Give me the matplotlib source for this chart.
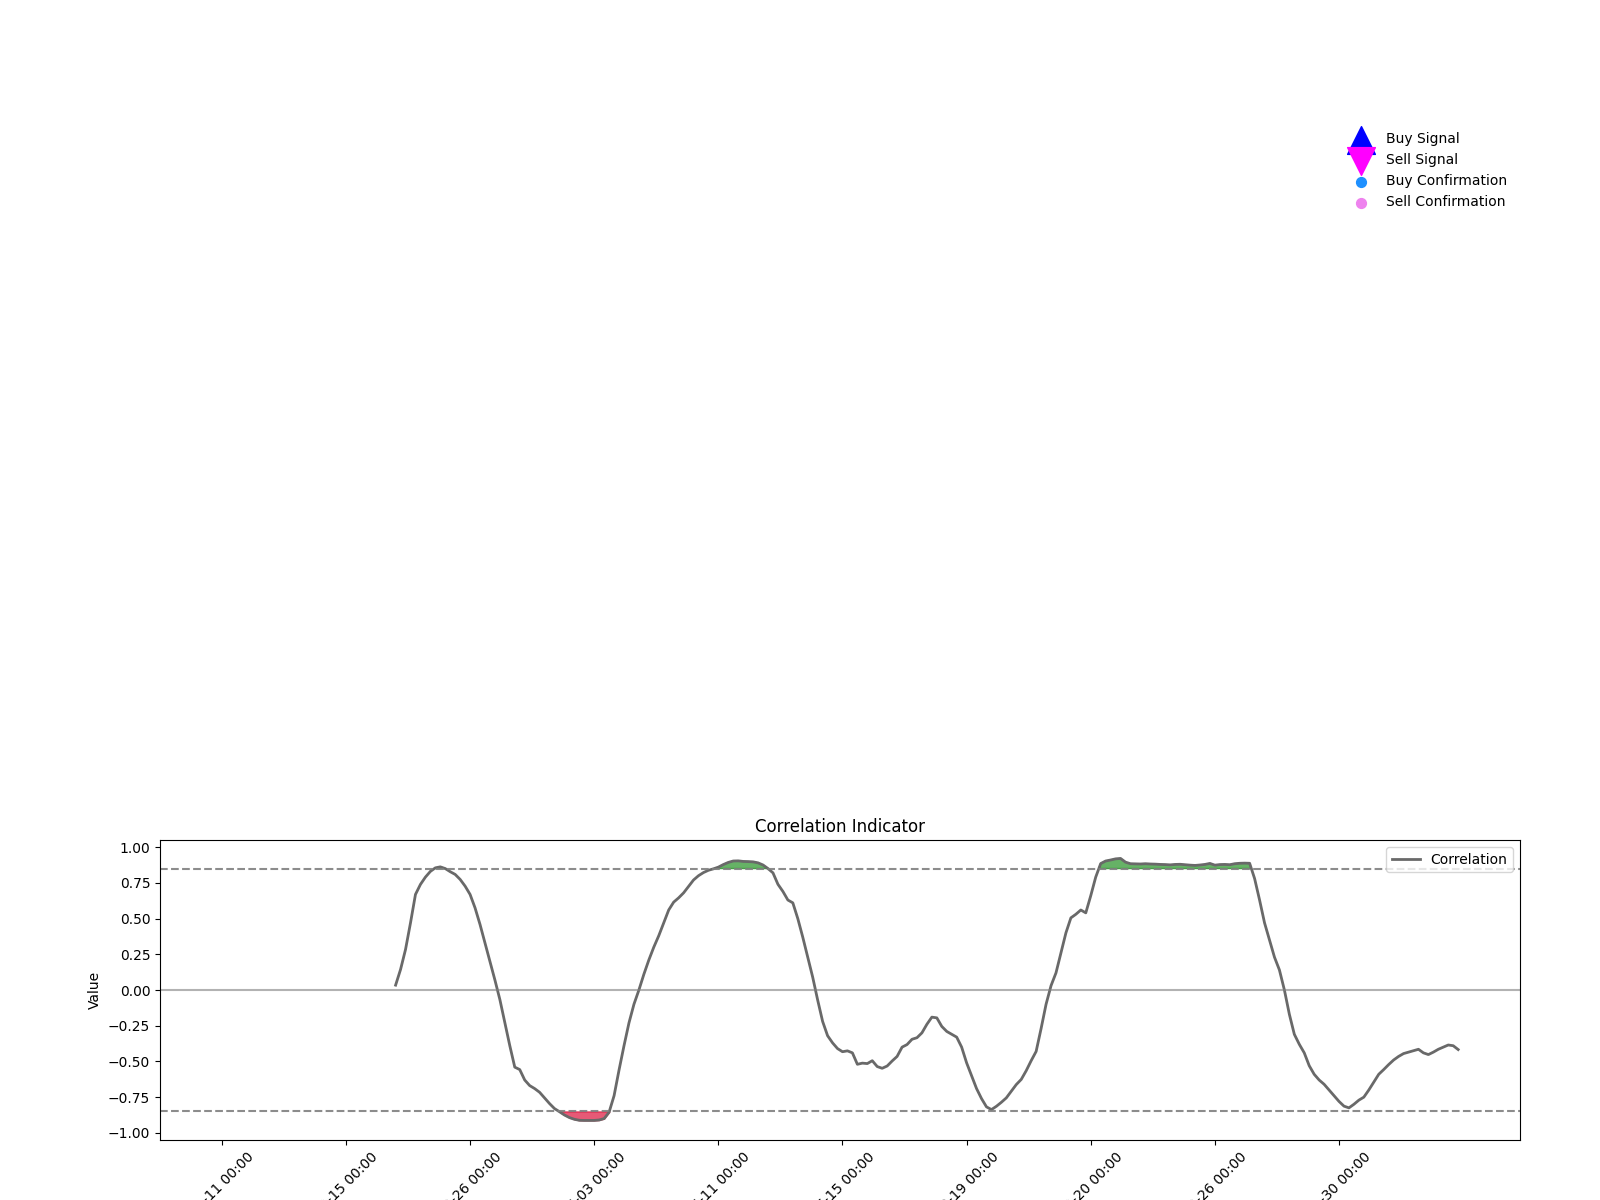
import numpy as np
import matplotlib
matplotlib.use("Agg")
import matplotlib.pyplot as plt

# correlation readings, one per bar; the first bars have no value (rolling window)
n_points = 250
first_valid = 35
corr_values = [
    0.034, 0.144, 0.284, 0.47, 0.669, 0.739, 0.79, 0.83, 0.855, 0.862,
    0.85, 0.828, 0.809, 0.774, 0.727, 0.669, 0.575, 0.459, 0.33, 0.2,
    0.07, -0.067, -0.23, -0.39, -0.54, -0.557, -0.63, -0.669, -0.69, -0.716,
    -0.755, -0.795, -0.83, -0.852, -0.875, -0.893, -0.905, -0.912, -0.913, -0.913,
    -0.913, -0.91, -0.90, -0.855, -0.74, -0.56, -0.39, -0.23, -0.10, 0.0,
    0.11, 0.21, 0.30, 0.38, 0.47, 0.56, 0.615, 0.645, 0.68, 0.725,
    0.77, 0.80, 0.822, 0.838, 0.848,
    0.86, 0.878, 0.893, 0.903, 0.904, 0.9, 0.899, 0.897, 0.89, 0.875,
    0.85, 0.82, 0.74, 0.69, 0.63, 0.61, 0.5, 0.37, 0.23, 0.09,
    -0.07, -0.22, -0.32, -0.37, -0.41, -0.432, -0.426, -0.44, -0.52, -0.512,
    -0.515, -0.495, -0.536, -0.548, -0.532, -0.497, -0.465, -0.40, -0.382, -0.345,
    -0.334, -0.30, -0.24, -0.19, -0.195, -0.255, -0.29, -0.31, -0.33, -0.40,
    -0.51, -0.60, -0.69, -0.76, -0.818, -0.837, -0.814, -0.786, -0.755, -0.709,
    -0.662, -0.626, -0.565, -0.495, -0.43, -0.27, -0.10,
    0.03, 0.12, 0.26, 0.40, 0.505, 0.53, 0.56, 0.54, 0.66, 0.79,
    0.885, 0.903, 0.91, 0.918, 0.921, 0.895, 0.884, 0.883, 0.882, 0.884,
    0.882, 0.881, 0.879, 0.878, 0.876, 0.879, 0.880, 0.877, 0.874, 0.872,
    0.875, 0.879, 0.886, 0.874, 0.878, 0.879, 0.877, 0.884, 0.887, 0.888,
    0.887, 0.78, 0.63, 0.47, 0.35, 0.23, 0.14, 0.0, -0.17, -0.31,
    -0.38, -0.44, -0.53, -0.59, -0.63, -0.66, -0.70, -0.74, -0.78, -0.813,
    -0.825, -0.80, -0.771, -0.75, -0.70, -0.645, -0.59, -0.557, -0.522, -0.49,
    -0.465, -0.445, -0.435, -0.425, -0.415, -0.44, -0.452, -0.435, -0.415, -0.40,
    -0.385, -0.39, -0.417,
]

upper_threshold = 0.85
lower_threshold = -0.85

tick_step = 25
tick_labels = [
    "01-11 00:00", "02-15 00:00", "03-26 00:00", "05-03 00:00", "06-11 00:00",
    "07-15 00:00", "08-19 00:00", "09-20 00:00", "10-26 00:00", "11-30 00:00",
]

x = np.arange(n_points)
corr = np.full(n_points, np.nan)
corr[first_valid:first_valid + len(corr_values)] = corr_values

fig = plt.figure(figsize=(16, 12), dpi=100)

# upper panel: signal legend only, axes hidden
ax_top = fig.add_axes([0.1, 0.35, 0.85, 0.55])
ax_top.scatter([], [], marker='^', color='blue', s=400, label='Buy Signal')
ax_top.scatter([], [], marker='v', color='magenta', s=400, label='Sell Signal')
ax_top.scatter([], [], marker='o', color='dodgerblue', s=50, label='Buy Confirmation')
ax_top.scatter([], [], marker='o', color='violet', s=50, label='Sell Confirmation')
ax_top.legend(loc='upper right', frameon=False)
ax_top.axis('off')

# lower panel: correlation indicator
ax = fig.add_axes([0.1, 0.05, 0.85, 0.25])
ax.plot(x, corr, color='dimgray', linewidth=2, label='Correlation')
ax.axhline(upper_threshold, color='gray', linestyle='--', alpha=0.9)
ax.axhline(lower_threshold, color='gray', linestyle='--', alpha=0.9)
ax.axhline(0, color='gray', linestyle='-', alpha=0.6)

valid = ~np.isnan(corr)
ax.fill_between(x, upper_threshold, corr, where=valid & (corr >= upper_threshold),
                color='green', alpha=0.6, interpolate=True)
ax.fill_between(x, lower_threshold, corr, where=valid & (corr <= lower_threshold),
                color='crimson', alpha=0.7, interpolate=True)

ax.set_title('Correlation Indicator')
ax.set_ylabel('Value')
ax.set_ylim(-1.05, 1.05)
ax.set_yticks(np.arange(-1.0, 1.01, 0.25))
ax.set_xlim(-0.05 * (n_points - 1), 1.05 * (n_points - 1))
ticks = x[::tick_step]
ax.set_xticks(ticks)
ax.set_xticklabels(tick_labels[:len(ticks)], rotation=45)
ax.legend(loc='upper right')

fig.savefig('out.png', dpi=100)
